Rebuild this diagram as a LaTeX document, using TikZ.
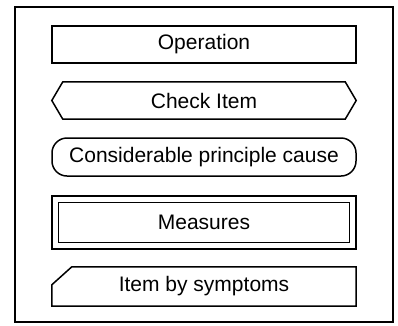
\documentclass[tikz,border=0pt]{standalone}
\usepackage{fontspec}
\setmainfont{Liberation Sans}
\begin{document}
\begin{tikzpicture}[x=1pt, y=-1pt,
	box/.style={minimum width=304pt, minimum height=37pt, inner sep=0pt, font=\fontsize{21}{25}\selectfont},
	edge/.style={line width=1.5pt}]
	\useasboundingbox (0,0) rectangle (398,325);
	\draw[line width=2pt] (15,7) rectangle (393,322);
	\node[box, draw, edge] (op) at (204,44.5) {Operation};
	\node[box] (check) at (204,100.5) {Check Item};
	\draw[edge] (check.west) -- ([xshift=11pt]check.north west) -- ([xshift=-11pt]check.north east) -- (check.east) -- ([xshift=-11pt]check.south east) -- ([xshift=11pt]check.south west) -- cycle;
	\node[box, draw, edge, rounded corners=15pt, minimum height=38pt] (cause) at (204,157) {Considerable principle cause};
	\node[box, draw, edge, minimum height=53pt] (meas) at (204,222.5) {Measures};
	\draw[line width=1pt] ([shift={(7pt,-7pt)}]meas.north west) rectangle ([shift={(-7pt,7pt)}]meas.south east);
	\node[box, minimum height=39pt] (symp) at (204,286.5) {Item by symptoms};
	\draw[edge] ([yshift=-18pt]symp.north west) -- ([xshift=20pt]symp.north west) -- (symp.north east) -- (symp.south east) -- (symp.south west) -- cycle;
\end{tikzpicture}
\end{document}
